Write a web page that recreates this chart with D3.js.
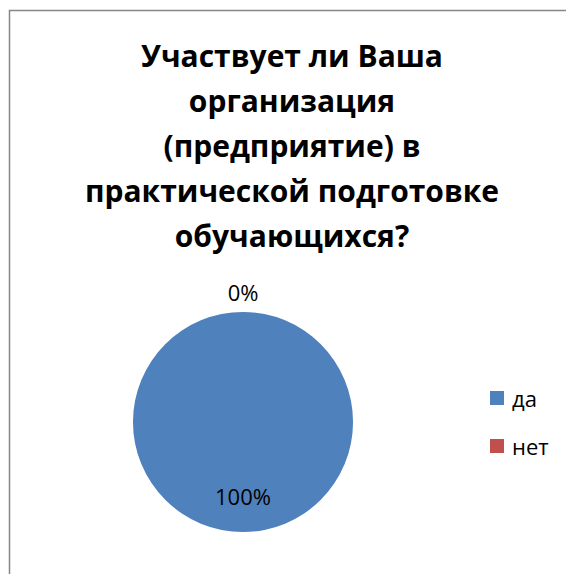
<!DOCTYPE html>
<html>
<head>
<meta charset="utf-8">
<script src="https://cdn.jsdelivr.net/npm/d3@7"></script>
<style>
  body { margin: 0; background: #fff; }
  text { font-family: 'Open Sans', 'Noto Sans', sans-serif; }
</style>
</head>
<body>
<div id="chart"></div>
<script>
const titleLines = ['Участвует ли Ваша', 'организация', '(предприятие) в', 'практической подготовке', 'обучающихся?'];
const categories = ['да', 'нет'];
const values = [100, 0];
const colors = ['#4F81BD', '#C0504D'];

const w = 566;
const h = 574;
const cx = 243;
const cy = 422;
const r = 110;

const svg = d3
  .select('#chart')
  .append('svg')
  .attr('width', w)
  .attr('height', h);

// chart frame (right/bottom edges are cut off in the original)
svg
  .append('rect')
  .attr('x', 9.5)
  .attr('y', 10.5)
  .attr('width', w + 20)
  .attr('height', h + 20)
  .attr('fill', '#fff')
  .attr('stroke', '#868686')
  .attr('stroke-width', 1.5);

// title
const title = svg
  .append('text')
  .attr('text-anchor', 'middle')
  .style('font-weight', 'bold')
  .style('font-size', '30px')
  .attr('fill', '#000');
titleLines.forEach((t, i) =>
  title
    .append('tspan')
    .attr('x', 292)
    .attr('y', 67 + i * 45)
    .text(t),
);

const data = categories.map((c, i) => ({ name: c, value: values[i] }));
const total = d3.sum(values);
const pie = d3
  .pie()
  .sort(null)
  .value(d => d.value);
const arcs = pie(data);
const arc = d3.arc().innerRadius(0).outerRadius(r);

const g = svg.append('g').attr('transform', 'translate(' + cx + ',' + cy + ')');

g.selectAll('.slice')
  .data(arcs)
  .enter()
  .append('path')
  .attr('class', 'slice')
  .attr('d', arc)
  .attr('fill', (d, i) => colors[i]);

// labels: zero slice goes outside, the full slice sits inside near the bottom
const labelR = d => (d.endAngle - d.startAngle > 0.01 ? r * 0.67 : r + 20);
const midA = d => (d.startAngle + d.endAngle) / 2;
g.selectAll('.lbl')
  .data(arcs)
  .enter()
  .append('text')
  .attr('class', 'lbl')
  .attr('text-anchor', 'middle')
  .attr('dominant-baseline', 'central')
  .style('font-size', '22px')
  .attr('fill', '#000')
  .attr('x', d => Math.sin(midA(d)) * labelR(d))
  .attr('y', d => -Math.cos(midA(d)) * labelR(d))
  .text(d => d3.format('.0%')(d.data.value / total));

// legend
const legend = svg
  .selectAll('.legend')
  .data(data)
  .enter()
  .append('g')
  .attr('class', 'legend')
  .attr('transform', (d, i) => 'translate(490,' + (391 + i * 48) + ')');
legend
  .append('rect')
  .attr('width', 14)
  .attr('height', 14)
  .attr('fill', (d, i) => colors[i]);
legend
  .append('text')
  .attr('x', 22)
  .attr('y', 7)
  .attr('dominant-baseline', 'central')
  .style('font-size', '22px')
  .attr('fill', '#000')
  .text(d => d.name);
</script>
</body>
</html>
